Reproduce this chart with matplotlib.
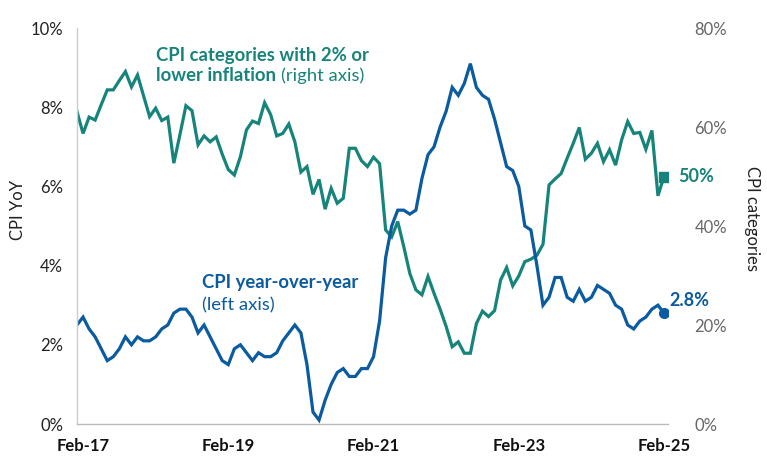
import matplotlib
matplotlib.use("Agg")
import matplotlib.pyplot as plt
import matplotlib.transforms as mtransforms
import numpy as np

# ---- data (monthly, Jan-17 .. Feb-25) ----
cpi_yoy = [2.5, 2.7, 2.4, 2.2, 1.9, 1.6, 1.7, 1.9, 2.2, 2.0, 2.2, 2.1,   # 2017
           2.1, 2.2, 2.4, 2.5, 2.8, 2.9, 2.9, 2.7, 2.3, 2.5, 2.2, 1.9,   # 2018
           1.6, 1.5, 1.9, 2.0, 1.8, 1.6, 1.8, 1.7, 1.7, 1.8, 2.1, 2.3,   # 2019
           2.5, 2.3, 1.5, 0.3, 0.1, 0.6, 1.0, 1.3, 1.4, 1.2, 1.2, 1.4,   # 2020
           1.4, 1.7, 2.6, 4.2, 5.0, 5.4, 5.4, 5.3, 5.4, 6.2, 6.8, 7.0,   # 2021
           7.5, 7.9, 8.5, 8.3, 8.6, 9.1, 8.5, 8.3, 8.2, 7.7, 7.1, 6.5,   # 2022
           6.4, 6.0, 5.0, 4.9, 4.0, 3.0, 3.2, 3.7, 3.7, 3.2, 3.1, 3.4,   # 2023
           3.1, 3.2, 3.5, 3.4, 3.3, 3.0, 2.9, 2.5, 2.4, 2.6, 2.7, 2.9,   # 2024
           3.0, 2.8]                                                     # 2025

low_infl_share = [63.1, 58.7, 62.0, 61.4, 64.5, 67.5, 67.5, 69.4, 71.2, 68.1, 70.5, 66.3,
                  62.1, 63.8, 61.3, 62.0, 52.7, 58.4, 64.3, 63.3, 56.4, 58.2, 57.0, 58.0,
                  54.5, 51.4, 50.3, 54.0, 59.4, 61.2, 60.7, 64.9, 62.5, 58.2, 58.7, 60.6,
                  57.0, 50.9, 52.0, 46.4, 49.4, 43.4, 47.6, 44.6, 45.6, 55.7, 55.7, 53.2,
                  52.0, 53.9, 52.6, 39.2, 37.8, 40.9, 35.8, 30.4, 27.1, 26.1, 29.8, 26.4,
                  23.2, 19.7, 15.6, 16.6, 14.3, 14.3, 20.3, 22.8, 21.7, 22.9, 29.1, 31.6,
                  27.9, 29.9, 32.8, 33.3, 34.1, 36.3, 48.3, 49.5, 50.6, 53.7, 56.7, 59.9,
                  53.5, 54.7, 56.7, 53.0, 55.4, 52.3, 57.4, 61.1, 58.7, 58.9, 55.5, 59.3,
                  46.1, 50.0]

x_tick_idx = [1, 25, 49, 73, 97]
x_tick_labels = ["Feb-17", "Feb-19", "Feb-21", "Feb-23", "Feb-25"]
left_ticks = [0, 2, 4, 6, 8, 10]
right_ticks = [0, 20, 40, 60, 80]

BLUE = "#0a5b9f"
TEAL = "#16847a"
FONT = "Lato"
plt.rcParams["font.family"] = [FONT, "DejaVu Sans"]

W, H = 767, 465
fig = plt.figure(figsize=(W / 100, H / 100), dpi=100)
L, R, B, T = 77, 668, 424, 28
ax1 = fig.add_axes([L / W, 1 - B / H, (R - L) / W, (B - T) / H])
ax2 = ax1.twinx()

x = np.arange(len(cpi_yoy))

ax2.plot(x, low_infl_share, color=TEAL, lw=2.3, solid_joinstyle="miter", zorder=2)
ax2.plot(x[-1], low_infl_share[-1], marker="s", ms=6.5, color=TEAL, zorder=3)
ax1.plot(x, cpi_yoy, color=BLUE, lw=2.3, solid_joinstyle="miter", zorder=2)
ax1.plot(x[-1], cpi_yoy[-1], marker="o", ms=7, color=BLUE, zorder=3)

ax1.set_zorder(ax2.get_zorder() + 1)
ax1.patch.set_visible(False)

ax1.set_xlim(0, 97.66)
ax1.set_ylim(0, 10)
ax2.set_ylim(0, 80)

ax1.set_yticks(left_ticks)
ax1.set_yticklabels([f"{v}%" for v in left_ticks])
ax2.set_yticks(right_ticks)
ax2.set_yticklabels([f"{v}%" for v in right_ticks])
ax1.set_xticks(x_tick_idx)
ax1.set_xticklabels(x_tick_labels)

offset = mtransforms.ScaledTranslation(4 / 100, 0, fig.dpi_scale_trans)
for lbl in ax1.get_xticklabels():
    lbl.set_transform(lbl.get_transform() + offset)
    lbl.set_fontweight("bold")

ax1.tick_params(axis="x", length=0, pad=10, labelsize=12, labelcolor="#111111")
ax1.tick_params(axis="y", length=0, pad=10, labelsize=12, labelcolor="#222222")
ax2.tick_params(axis="y", length=0, pad=19, labelsize=12, labelcolor="#666666")

for ax in (ax1, ax2):
    for s in ("top", "right"):
        ax.spines[s].set_visible(False)
ax2.spines["left"].set_visible(False)
ax2.spines["bottom"].set_visible(False)
ax1.spines["left"].set_color("#cccccc")
ax1.spines["left"].set_linewidth(1.0)
ax1.spines["bottom"].set_color("#bbbbbb")
ax1.spines["bottom"].set_linewidth(1.0)

ax1.set_ylabel("CPI YoY", fontsize=12, color="#222222", va="center")
ax1.yaxis.set_label_coords(-0.1, 0.54)
ax2.set_ylabel("CPI categories", fontsize=12, color="#222222", rotation=-90, va="center")
ax2.yaxis.set_label_coords(1.142, 0.52)

def px(xp, yp):
    return xp / W, 1 - yp / H

fs_ann = 13.3
fig.text(*px(156, 61), "CPI categories with 2% or", color=TEAL, fontsize=fs_ann,
         fontweight="bold", va="baseline", ha="left")
t_low = fig.text(*px(156, 81), "lower inflation", color=TEAL, fontsize=fs_ann,
                 fontweight="bold", va="baseline", ha="left")
fig.text(*px(202, 288), "CPI year-over-year", color=BLUE, fontsize=fs_ann,
         fontweight="bold", va="baseline", ha="left")
fig.text(*px(202, 310), "(left axis)", color=BLUE, fontsize=fs_ann,
         va="baseline", ha="left")

fig.canvas.draw()
ext = t_low.get_window_extent()
fig.text((ext.x1 + 5) / W, 1 - 81 / H, "(right axis)", color=TEAL, fontsize=fs_ann,
         va="baseline", ha="left")

ax2.annotate(f"{low_infl_share[-1]:.0f}%", xy=(x[-1], low_infl_share[-1]),
             xytext=(10, 0), textcoords="offset points", color=TEAL,
             fontsize=13, fontweight="bold", va="center", ha="left")
ax1.annotate(f"{cpi_yoy[-1]}%", xy=(x[-1], cpi_yoy[-1]),
             xytext=(4, 9), textcoords="offset points", color=BLUE,
             fontsize=13, fontweight="bold", va="center", ha="left")

fig.savefig("out.png", dpi=100)
